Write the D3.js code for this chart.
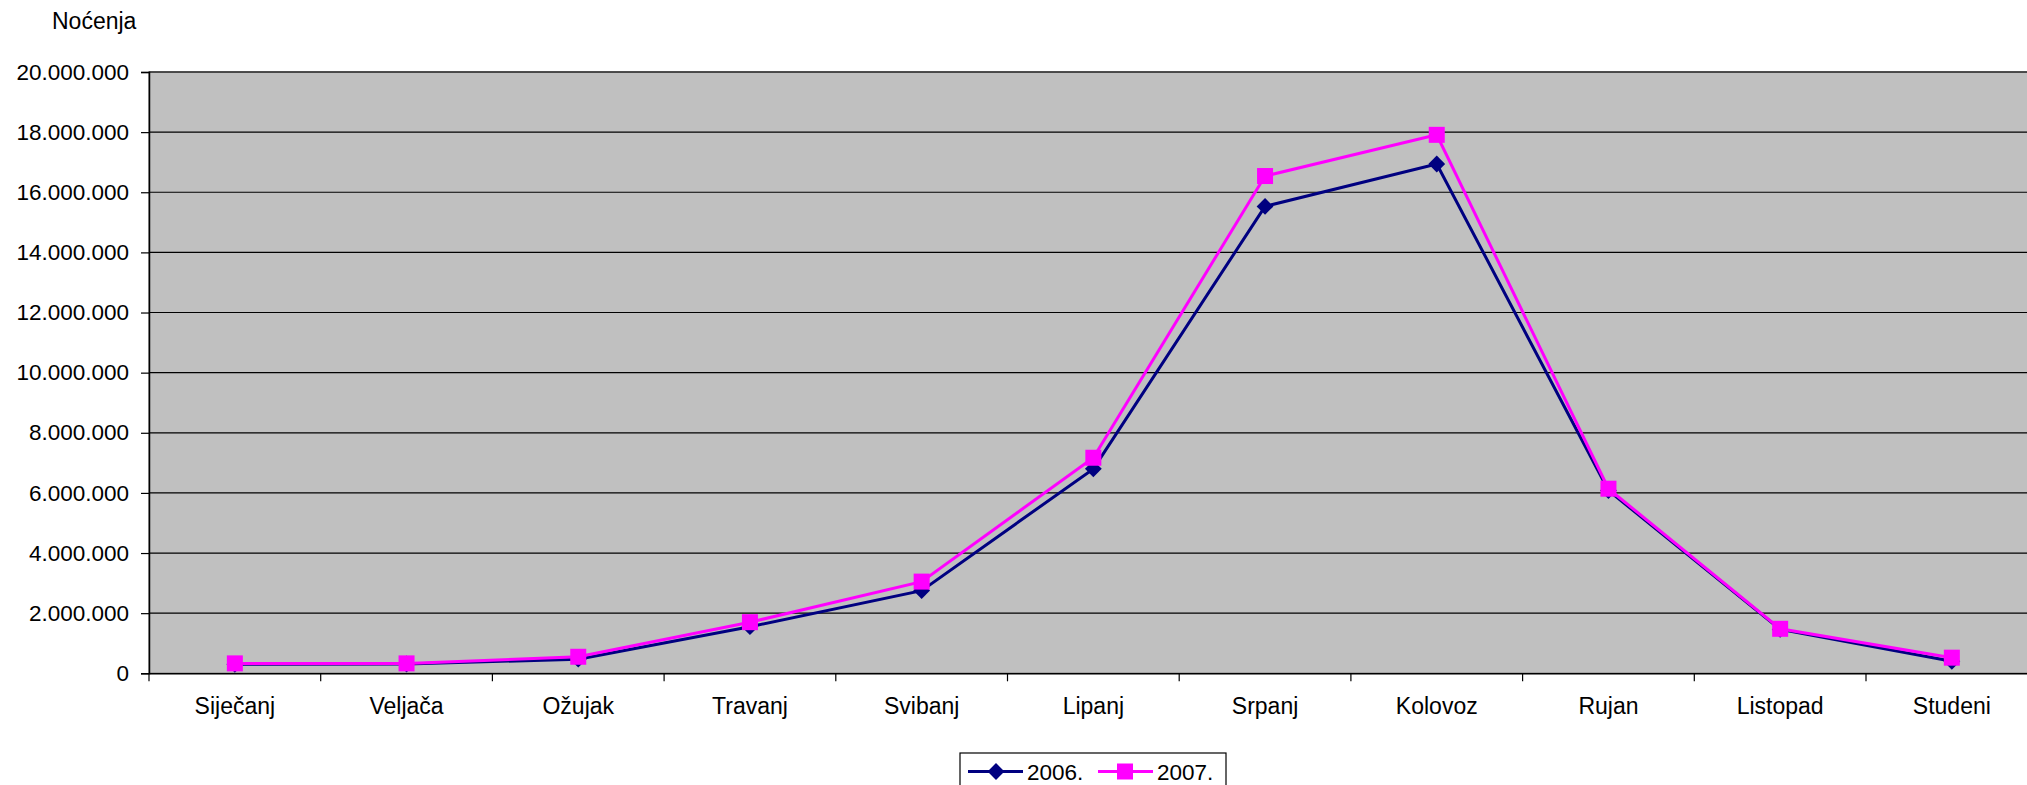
<!DOCTYPE html>
<html>
<head>
<meta charset="utf-8">
<script src="https://cdn.jsdelivr.net/npm/d3@7"></script>
<style>
html, body { margin: 0; padding: 0; background: #fff; overflow: hidden; }
svg { display: block; font-family: Arial, "Liberation Sans", sans-serif; }
</style>
</head>
<body>
<svg id="chart" width="2027" height="785"></svg>
<script>
const months = ["Siječanj", "Veljača", "Ožujak", "Travanj", "Svibanj", "Lipanj", "Srpanj", "Kolovoz", "Rujan", "Listopad", "Studeni"];
const values2006 = [300000, 310000, 470000, 1550000, 2750000, 6800000, 15530000, 16940000, 6080000, 1460000, 400000];
const values2007 = [330000, 330000, 550000, 1700000, 3050000, 7170000, 16540000, 17910000, 6140000, 1480000, 520000];
const yTicks = [0, 2000000, 4000000, 6000000, 8000000, 10000000, 12000000, 14000000, 16000000, 18000000, 20000000];
const seriesNames = ["2006.", "2007."];
const yTitle = "Noćenja";

(function () {
const svg = d3.select("#chart");
const pL = 149, pT = 72, pB = 673.3, pR = 149 + 11 * 171.7;

const x = d3.scaleBand().domain(months).range([pL, pR]).paddingInner(0).paddingOuter(0);
const y = d3.scaleLinear().domain([0, 20000000]).range([pB, pT]);

// plot area
svg.append("rect").attr("x", pL).attr("y", pT).attr("width", pR - pL).attr("height", pB - pT)
  .attr("fill", "#C0C0C0").attr("stroke", "#808080").attr("stroke-width", 1.5);

// gridlines
svg.append("g").selectAll("line").data(yTicks.filter(d => d > 0)).join("line")
  .attr("x1", pL).attr("x2", pR)
  .attr("y1", d => y(d)).attr("y2", d => y(d))
  .attr("stroke", "#000").attr("stroke-width", 1.2);

const fmt = v => v === 0 ? "0" : d3.format(",")(v).replace(/,/g, ".");

// y axis
const yAxis = d3.axisLeft(y).tickValues(yTicks).tickSize(8).tickPadding(12).tickFormat(fmt);
const gy = svg.append("g").attr("transform", `translate(${pL},0)`).call(yAxis);
gy.select(".domain").attr("stroke", "#000").attr("stroke-width", 1.5);
gy.selectAll(".tick line").attr("stroke", "#000").attr("stroke-width", 1.2);
gy.selectAll(".tick text").attr("font-size", 22.5).attr("fill", "#000")
  .attr("font-family", "Arial, 'Liberation Sans', sans-serif");

// x axis
const xAxis = d3.axisBottom(x).tickSize(0).tickPadding(0);
const gx = svg.append("g").attr("transform", `translate(0,${pB})`).call(xAxis);
gx.select(".domain").attr("stroke", "#000").attr("stroke-width", 1.5);
gx.selectAll(".tick text").attr("font-size", 23).attr("fill", "#000")
  .attr("font-family", "Arial, 'Liberation Sans', sans-serif")
  .attr("dy", null).attr("y", 41);
// boundary ticks
svg.append("g").selectAll("line").data(months).join("line")
  .attr("x1", d => x(d)).attr("x2", d => x(d))
  .attr("y1", pB).attr("y2", pB + 8)
  .attr("stroke", "#000").attr("stroke-width", 1.2);

// y title
svg.append("text").attr("x", 52).attr("y", 29).attr("font-size", 23).attr("fill", "#000").text(yTitle);

const line = d3.line().x((d, i) => x(months[i]) + x.bandwidth() / 2).y(d => y(d));

// 2006 series
svg.append("path").datum(values2006).attr("d", line).attr("fill", "none")
  .attr("stroke", "#000080").attr("stroke-width", 3);
svg.append("g").selectAll("path").data(values2006).join("path")
  .attr("transform", (d, i) => `translate(${x(months[i]) + x.bandwidth() / 2},${y(d)})`)
  .attr("d", d3.symbol(d3.symbolDiamond2, 180)())
  .attr("fill", "#000080");

// 2007 series
svg.append("path").datum(values2007).attr("d", line).attr("fill", "none")
  .attr("stroke", "#FF00FF").attr("stroke-width", 3);
svg.append("g").selectAll("rect").data(values2007).join("rect")
  .attr("x", (d, i) => x(months[i]) + x.bandwidth() / 2 - 8)
  .attr("y", d => y(d) - 8)
  .attr("width", 16).attr("height", 16)
  .attr("fill", "#FF00FF");

// legend
const lg = svg.append("g");
lg.append("rect").attr("x", 960).attr("y", 753).attr("width", 266).attr("height", 50)
  .attr("fill", "#fff").attr("stroke", "#000").attr("stroke-width", 1.2);
const ly = 771.5;
const legendItems = [
  { name: seriesNames[0], color: "#000080", x0: 968, marker: "diamond" },
  { name: seriesNames[1], color: "#FF00FF", x0: 1098, marker: "square" }
];
legendItems.forEach(it => {
  lg.append("line").attr("x1", it.x0).attr("x2", it.x0 + 55).attr("y1", ly).attr("y2", ly)
    .attr("stroke", it.color).attr("stroke-width", 3);
  if (it.marker === "diamond") {
    lg.append("path").attr("transform", `translate(${it.x0 + 28},${ly})`)
      .attr("d", d3.symbol(d3.symbolDiamond2, 180)()).attr("fill", it.color);
  } else {
    lg.append("rect").attr("x", it.x0 + 27 - 8).attr("y", ly - 8).attr("width", 16).attr("height", 16)
      .attr("fill", it.color);
  }
  lg.append("text").attr("x", it.x0 + 59).attr("y", ly + 8.5).attr("font-size", 22.5).attr("fill", "#000").text(it.name);
});
})();
</script>
</body>
</html>
